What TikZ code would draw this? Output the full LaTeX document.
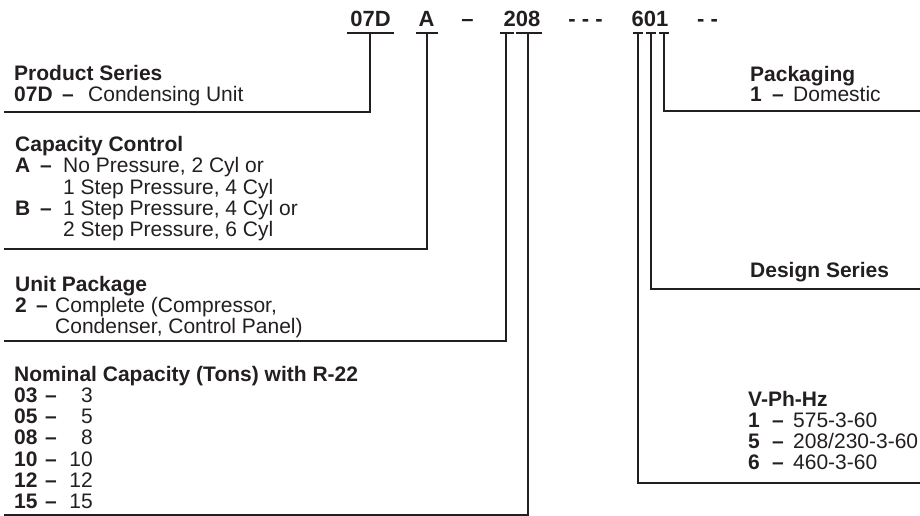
\documentclass[tikz,border=0pt]{standalone}
\usepackage{fontspec}
\setmainfont{Liberation Sans}
\definecolor{ink}{HTML}{231F20}
\tikzset{
  lbl/.style={anchor=base west, inner sep=0pt, text=ink, font=\fontsize{21}{21}\selectfont},
  bl/.style={anchor=base west, inner sep=0pt, text=ink, font=\fontsize{21}{21}\selectfont\bfseries},
  br/.style={anchor=base east, inner sep=0pt, text=ink, font=\fontsize{21}{21}\selectfont},
  codepart/.style={anchor=base, inner sep=0pt, text=ink, font=\fontsize{22}{22}\selectfont\bfseries},
  wire/.style={line width=2pt, draw=ink},
}
\begin{document}
\begin{tikzpicture}[x=1pt,y=-1pt]
\useasboundingbox (0,0) rectangle (920,516);

% model number
\node[codepart] (c07D) at (370.5,27) {07D};
\node[codepart] (cA) at (426.5,27) {A};
\node[codepart] (cdash) at (467.5,27) {–};
\node[codepart] (c208) at (522,27) {208};
\node[codepart] (cgap) at (585.5,27) {- - -};
\node[codepart] (c601) at (650,27) {601};
\node[codepart] (cend) at (707.5,27) {- -};

% bar coordinates
\coordinate (t07Dl) at (347,33); \coordinate (t07Dr) at (394,33);
\coordinate (tAl) at (416,33);   \coordinate (tAr) at (438,33);
\coordinate (t2l) at (500,33);   \coordinate (t2r) at (514,33);
\coordinate (t08l) at (516,33);  \coordinate (t08r) at (542,33);
\coordinate (t6l) at (633,33);   \coordinate (t6r) at (643,33);
\coordinate (t0l) at (646,33);   \coordinate (t0r) at (656,33);
\coordinate (t1l) at (659,33);   \coordinate (t1r) at (669,33);
\foreach \k in {07D,A,2,08,6,0,1}{\draw[wire] (t\k l) -- (t\k r);}

% stem tops
\coordinate (s07D) at (370,33);
\coordinate (sA) at (427,33);
\coordinate (s2) at (506,33);
\coordinate (s08) at (528,33);
\coordinate (s6) at (638,33);
\coordinate (s0) at (651,33);
\coordinate (s1) at (664,33);
% line ends
\coordinate (e07D) at (4,112);
\coordinate (eA) at (4,249);
\coordinate (e2) at (4,341);
\coordinate (e08) at (4,514.5);
\coordinate (e6) at (920,483);
\coordinate (e0) at (920,289);
\coordinate (e1) at (920,111);
\foreach \k in {07D,A,2,08,6,0,1}{\draw[wire] (s\k) |- (e\k);}

% Product Series
\node[bl] (psT) at (14,81) {Product Series};
\node[bl] (psC) at (14,102) {07D};
\node[bl] (psD) at (62,102) {–};
\node[lbl] (psV) at (88,102) {Condensing Unit};

% Capacity Control
\node[bl] (ccT) at (15,151) {Capacity Control};
\node[bl] (ccA) at (15,172) {A};
\node[bl] (ccAd) at (40,172) {–};
\node[lbl] (ccA1) at (63,172) {No Pressure, 2 Cyl or};
\node[lbl] (ccA2) at (63,194) {1 Step Pressure, 4 Cyl};
\node[bl] (ccB) at (15,215) {B};
\node[bl] (ccBd) at (40,215) {–};
\node[lbl] (ccB1) at (63,215) {1 Step Pressure, 4 Cyl or};
\node[lbl] (ccB2) at (63,236) {2 Step Pressure, 6 Cyl};

% Unit Package
\node[bl] (upT) at (15,291) {Unit Package};
\node[bl] (upC) at (15,312) {2};
\node[bl] (upD) at (36,312) {–};
\node[lbl] (upV1) at (55,312) {Complete (Compressor,};
\node[lbl] (upV2) at (55,333) {Condenser, Control Panel)};

% Nominal Capacity
\node[bl] (ncT) at (14,381) {Nominal Capacity (Tons) with R-22};
\foreach \c/\v/\y in {03/3/402,05/5/423,08/8/444,10/10/466,12/12/487,15/15/508}{
  \node[bl] (nc\c) at (14,\y) {\c};
  \node[bl] (nc\c d) at (45,\y) {–};
  \node[br] (nc\c v) at (93,\y) {\v};
}

% Packaging
\node[bl] (pkT) at (750,82) {Packaging};
\node[bl] (pkC) at (750,102) {1};
\node[bl] (pkD) at (772,102) {–};
\node[lbl] (pkV) at (793,102) {Domestic};

% Design Series
\node[bl] (dsT) at (750,277) {Design Series};

% V-Ph-Hz
\node[bl] (vT) at (748,406) {V-Ph-Hz};
\foreach \c/\v/\y in {1/575-3-60/427,5/208\slash 230-3-60/448,6/460-3-60/469}{
  \node[bl] (v\c) at (748,\y) {\c};
  \node[bl] (v\c d) at (772,\y) {–};
  \node[lbl] (v\c v) at (793,\y) {\v};
}
\end{tikzpicture}
\end{document}
